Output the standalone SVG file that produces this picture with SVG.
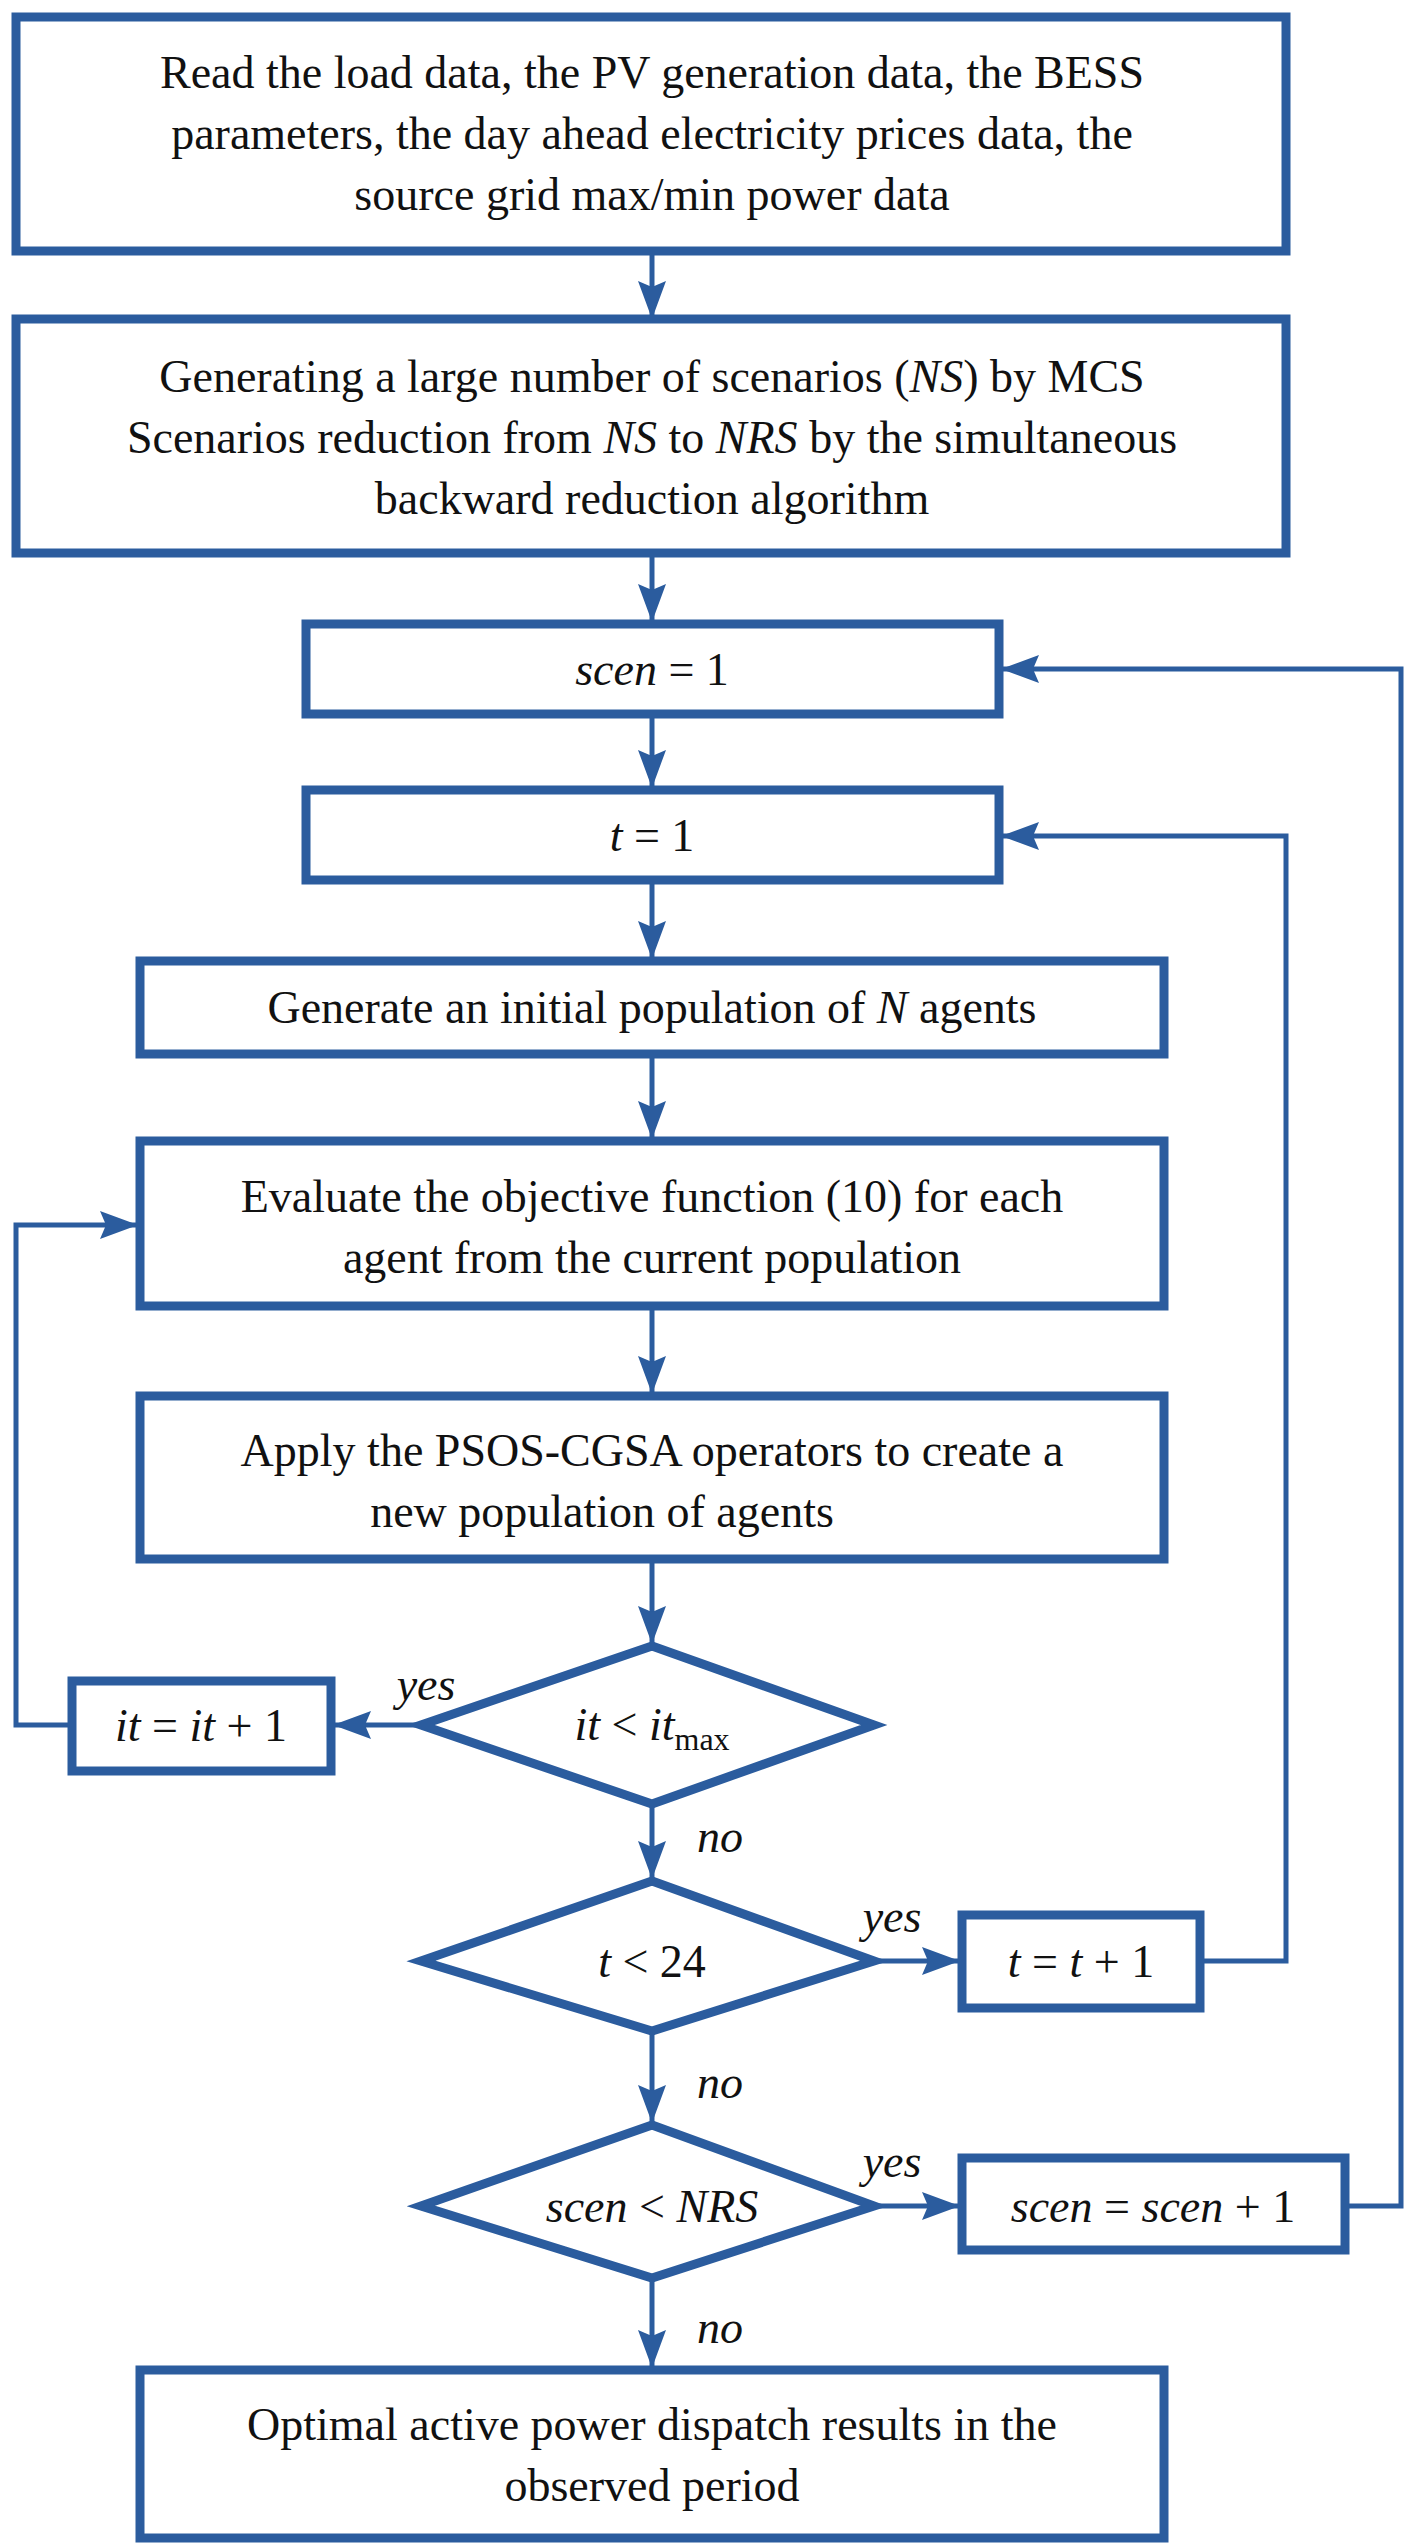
<svg xmlns="http://www.w3.org/2000/svg" width="1405" height="2545" viewBox="0 0 1405 2545">
<style>
.b{fill:#fff;stroke:#2B5C9E;stroke-width:9}
.c{fill:none;stroke:#2B5C9E;stroke-width:5}
text{font-family:"Liberation Serif","Times New Roman",serif;font-size:46px;fill:#111;text-anchor:middle}
.i{font-style:italic}
</style>
<defs>
<marker id="a" markerUnits="userSpaceOnUse" markerWidth="40" markerHeight="30" refX="38" refY="14" orient="auto"><path d="M0,0 L38,14 L0,28 L6,14 Z" fill="#2B5C9E"/></marker>
</defs>
<rect width="1405" height="2545" fill="#fff"/>
<g id="connectors">
<line class="c" x1="652" y1="251" x2="652" y2="319" marker-end="url(#a)"/>
<line class="c" x1="652" y1="553" x2="652" y2="622" marker-end="url(#a)"/>
<line class="c" x1="652" y1="714" x2="652" y2="788" marker-end="url(#a)"/>
<line class="c" x1="652" y1="880" x2="652" y2="959" marker-end="url(#a)"/>
<line class="c" x1="652" y1="1054" x2="652" y2="1139" marker-end="url(#a)"/>
<line class="c" x1="652" y1="1306" x2="652" y2="1394" marker-end="url(#a)"/>
<line class="c" x1="652" y1="1559" x2="652" y2="1644" marker-end="url(#a)"/>
<line class="c" x1="421" y1="1725" x2="333" y2="1725" marker-end="url(#a)"/>
<polyline class="c" points="72,1725 16,1725 16,1225 138,1225" marker-end="url(#a)"/>
<line class="c" x1="652" y1="1803" x2="652" y2="1879" marker-end="url(#a)"/>
<line class="c" x1="874" y1="1961" x2="960" y2="1961" marker-end="url(#a)"/>
<polyline class="c" points="1200,1961 1286,1961 1286,836 1001,836" marker-end="url(#a)"/>
<line class="c" x1="652" y1="2031" x2="652" y2="2123" marker-end="url(#a)"/>
<line class="c" x1="874" y1="2206" x2="960" y2="2206" marker-end="url(#a)"/>
<polyline class="c" points="1345,2206 1401,2206 1401,669 1001,669" marker-end="url(#a)"/>
<line class="c" x1="652" y1="2278" x2="652" y2="2368" marker-end="url(#a)"/>
<text class="i" x="426" y="1700">yes</text>
<text class="i" x="720" y="1852">no</text>
<text class="i" x="892" y="1932">yes</text>
<text class="i" x="720" y="2098">no</text>
<text class="i" x="892" y="2177">yes</text>
<text class="i" x="720" y="2343">no</text>
</g>
<g id="n1"><rect class="b" x="16" y="17" width="1270" height="234"/>
<text x="652" y="88">Read the load data, the PV generation data, the BESS</text>
<text x="652" y="149">parameters, the day ahead electricity prices data, the</text>
<text x="652" y="210">source grid max/min power data</text></g>
<g id="n2"><rect class="b" x="16" y="319" width="1270" height="234"/>
<text x="652" y="392">Generating a large number of scenarios (<tspan class="i">NS</tspan>) by MCS</text>
<text x="652" y="453">Scenarios reduction from <tspan class="i">NS</tspan> to <tspan class="i">NRS</tspan> by the simultaneous</text>
<text x="652" y="514">backward reduction algorithm</text></g>
<g id="n3"><rect class="b" x="306" y="624" width="693" height="90"/>
<text x="652" y="685"><tspan class="i">scen</tspan> = 1</text></g>
<g id="n4"><rect class="b" x="306" y="790" width="693" height="90"/>
<text x="652" y="851"><tspan class="i">t</tspan> = 1</text></g>
<g id="n5"><rect class="b" x="140" y="961" width="1024" height="93"/>
<text x="652" y="1023">Generate an initial population of <tspan class="i">N</tspan> agents</text></g>
<g id="n6"><rect class="b" x="140" y="1141" width="1024" height="165"/>
<text x="652" y="1212">Evaluate the objective function (10) for each</text>
<text x="652" y="1273">agent from the current population</text></g>
<g id="n7"><rect class="b" x="140" y="1396" width="1024" height="163"/>
<text x="652" y="1466">Apply the PSOS-CGSA operators to create a</text>
<text x="602" y="1527">new population of agents</text></g>
<g id="n8"><polygon class="b" points="652,1646 874,1725 652,1804 421,1725"/>
<text x="652" y="1740"><tspan class="i">it</tspan> &lt; <tspan class="i">it</tspan><tspan font-size="32" dy="10">max</tspan></text></g>
<g id="n9"><rect class="b" x="72" y="1681" width="259" height="90"/>
<text x="201" y="1741"><tspan class="i">it</tspan> = <tspan class="i">it</tspan> + 1</text></g>
<g id="n10"><polygon class="b" points="652,1881 874,1961 652,2031 421,1961"/>
<text x="652" y="1977"><tspan class="i">t</tspan> &lt; 24</text></g>
<g id="n11"><rect class="b" x="962" y="1915" width="238" height="93"/>
<text x="1081" y="1977"><tspan class="i">t</tspan> = <tspan class="i">t</tspan> + 1</text></g>
<g id="n12"><polygon class="b" points="652,2125 874,2206 652,2278 421,2206"/>
<text x="652" y="2222"><tspan class="i">scen</tspan> &lt; <tspan class="i">NRS</tspan></text></g>
<g id="n13"><rect class="b" x="962" y="2158" width="383" height="92"/>
<text x="1153" y="2222"><tspan class="i">scen</tspan> = <tspan class="i">scen</tspan> + 1</text></g>
<g id="n14"><rect class="b" x="140" y="2370" width="1024" height="168"/>
<text x="652" y="2440">Optimal active power dispatch results in the</text>
<text x="652" y="2501">observed period</text></g>
</svg>
